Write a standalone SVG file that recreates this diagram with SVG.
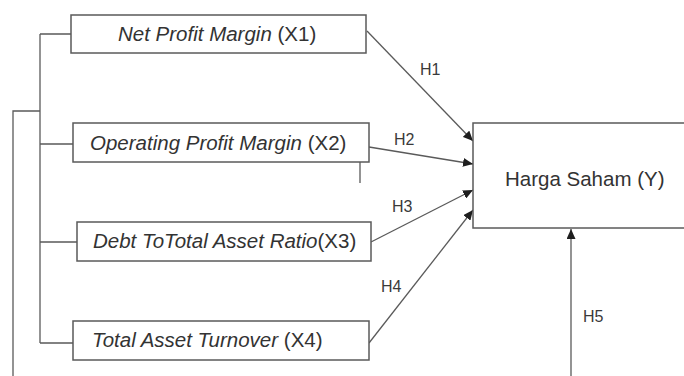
<svg xmlns="http://www.w3.org/2000/svg" width="684" height="376" viewBox="0 0 684 376">
<style>
.box{fill:#fff;stroke:#5a5a5a;stroke-width:1.5}
.t{font-family:"Liberation Sans",Arial,sans-serif;font-size:20.5px;fill:#333}
.i{font-style:italic}
.h{font-family:"Liberation Sans",Arial,sans-serif;font-size:16px;fill:#3a3a3a}
.ln{fill:none;stroke:#5a5a5a;stroke-width:1.3}
.ar{fill:none;stroke:#5a5a5a;stroke-width:1.3;marker-end:url(#ah)}
</style>
<defs>
<marker id="ah" markerWidth="10" markerHeight="9" refX="10" refY="4.5" orient="auto" markerUnits="userSpaceOnUse">
<path d="M0,0 L10,4.5 L0,9 Z" fill="#1e1e1e"/>
</marker>
</defs>
<rect width="684" height="376" fill="#fff"/>
<g id="connectors">
<path class="ln" d="M13,376 V111 H40"/>
<path class="ln" d="M40,34 V343"/>
<path class="ln" d="M40,34 H71 M40,144 H73 M40,242 H77 M40,343 H73"/>
<path class="ln" d="M360,162 V183"/>
<path class="ar" d="M367,31 L473,141"/>
<path class="ar" d="M369,147 L473,164"/>
<path class="ar" d="M371,242 L473,190"/>
<path class="ar" d="M369,343 L473,210"/>
<path class="ar" d="M571,376 V229"/>
<text class="h" x="420" y="75">H1</text>
<text class="h" x="394" y="145">H2</text>
<text class="h" x="392" y="212">H3</text>
<text class="h" x="381" y="292">H4</text>
<text class="h" x="583" y="322">H5</text>
</g>
<g id="x1">
<rect class="box" x="71" y="15" width="295" height="38"/>
<text class="t" x="118" y="41"><tspan class="i">Net Profit Margin</tspan> (X1)</text>
</g>
<g id="x2">
<rect class="box" x="73" y="123" width="296" height="39"/>
<text class="t" x="90" y="150"><tspan class="i">Operating Profit Margin</tspan> (X2)</text>
</g>
<g id="x3">
<rect class="box" x="77" y="222" width="294" height="39"/>
<text class="t" x="93" y="248"><tspan class="i">Debt ToTotal Asset Ratio</tspan>(X3)</text>
</g>
<g id="x4">
<rect class="box" x="73" y="321" width="296" height="39"/>
<text class="t" x="92" y="347"><tspan class="i">Total Asset Turnover</tspan> (X4)</text>
</g>
<g id="y">
<rect class="box" x="473" y="123" width="220" height="105"/>
<text class="t" x="505" y="186">Harga Saham (Y)</text>
</g>
</svg>
